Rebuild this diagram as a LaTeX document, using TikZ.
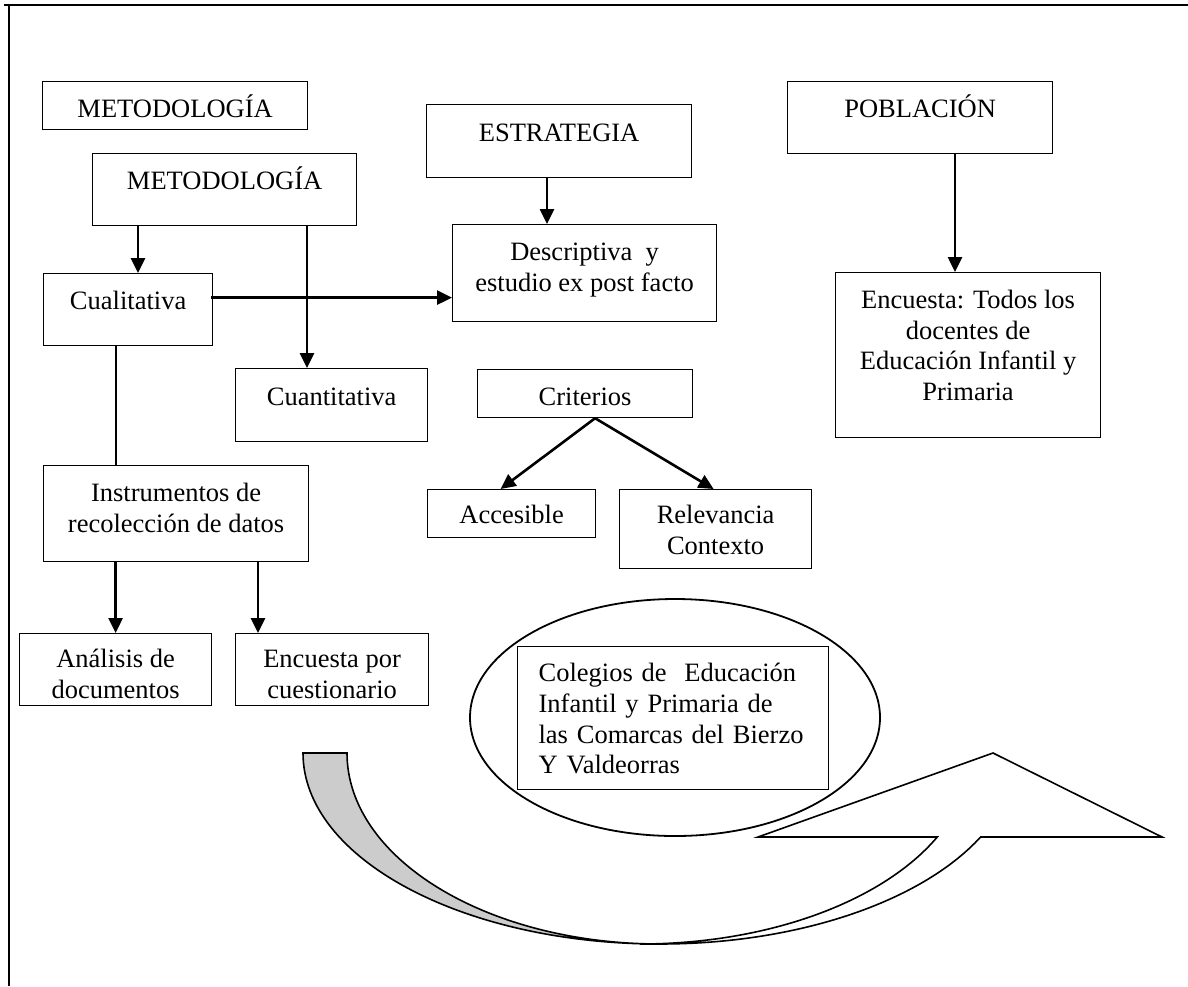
\documentclass[tikz,border=0pt]{standalone}
\usepackage{fontspec}
\setmainfont{Liberation Serif}
\usetikzlibrary{arrows.meta,calc}

\tikzset{
  box/.style={draw, line width=1.2pt, anchor=north west, inner sep=0pt, align=center},
  arr/.style={line width=2.6pt, -{Triangle[length=15pt,width=14pt]}},
}

\begin{document}
\begin{tikzpicture}[x=1pt,y=1pt,font=\fontsize{26.5}{30.7}\selectfont]
\useasboundingbox (0,0) rectangle (1188,-986);
% marco
\draw[line width=2.4pt] (4,-5) -- (1188,-5);
\draw[line width=2.6pt] (9,-4) -- (9,-986);

% flecha curva
\filldraw[fill=white, line width=1.6pt] (640,-944) arc[start angle=270, end angle=333.9, x radius=331pt, y radius=191pt]
  -- (758,-837) -- (993,-753) -- (1162,-837) -- (980.6,-837)
  arc[start angle=333.9, end angle=270, x radius=357pt, y radius=191pt] -- cycle;
\filldraw[fill=black!20, line width=1.6pt] (303,-753) arc[start angle=180, end angle=270, x radius=357pt, y radius=191pt]
  arc[start angle=270, end angle=180, x radius=313pt, y radius=191pt] -- cycle;

% comarcas
\draw[line width=1.8pt] (675,-717.5) ellipse [x radius=205pt, y radius=118.5pt];

\node[box, minimum width=265pt, text height=36pt, text depth=12pt] (meto1) at (42,-81) {METODOLOGÍA};
\node[box, minimum width=264pt, text height=36pt, text depth=36pt] (meto2) at (92,-153) {METODOLOGÍA};
\node[box, minimum width=169pt, text height=36pt, text depth=36pt] (cuali) at (43,-273) {Cualitativa};
\node[box, minimum width=192pt, text height=37pt, text depth=36pt] (cuanti) at (235,-368) {Cuantitativa};
\node[box, minimum width=265pt, text height=37pt, text depth=36pt] (estra) at (426,-104) {ESTRATEGIA};
\node[box, minimum width=264pt, text height=66.7pt, text depth=30.3pt] (descr) at (452,-224) {Descriptiva~ y\\ estudio ex post facto};
\node[box, minimum width=265pt, text height=36pt, text depth=36pt] (pobla) at (787,-81) {POBLACIÓN};
\node[box, minimum width=265pt, text height=128pt, text depth=37pt] (todos) at (835,-272) {Encuesta: Todos los\\ docentes de\\ Educación Infantil y\\ Primaria};
\node[box, minimum width=265pt, text height=66.7pt, text depth=29.3pt] (instr) at (43,-465) {Instrumentos de\\ recolección de datos};
\node[box, minimum width=192pt, text height=65pt, text depth=7pt] (anali) at (19,-633) {Análisis de\\ documentos};
\node[box, minimum width=193pt, text height=65pt, text depth=7pt] (encq) at (235,-633) {Encuesta por\\ cuestionario};
\node[box, minimum width=215pt, text height=36pt, text depth=12pt] (crit) at (477,-369) {Criterios};
\node[box, minimum width=168pt, text height=34pt, text depth=14pt] (acces) at (427,-489) {Accesible};
\node[box, minimum width=192pt, text height=65pt, text depth=14pt] (relev) at (619,-489) {Relevancia\\ Contexto};
\node[box, minimum width=311pt, text width=269pt, align=left, text height=35pt, text depth=108pt] (coleg) at (517,-646)
  {Colegios de~ Educación\\ Infantil y Primaria de\\ las Comarcas del Bierzo\\ Y Valdeorras};

% conexiones
\coordinate (m2a) at ($(meto2.south west)+(46,0)$);
\coordinate (m2b) at ($(meto2.south west)+(215,0)$);
\coordinate (cu) at ($(cuali.east)+(-2,12)$);
\coordinate (cd) at ($(cuali.south west)+(73,0)$);
\coordinate (es) at ($(estra.south west)+(121,0)$);
\coordinate (po) at ($(pobla.south west)+(168,0)$);
\coordinate (ie) at ($(instr.south west)+(215,0)$);
\coordinate (fork) at ($(crit.south)+(10,0)$);
\draw[arr] (m2a) -- (m2a |- cuali.north);
\draw[arr] (m2b) -- (m2b |- cuanti.north);
\draw[arr] (cu) -- (cu -| descr.west);
\draw[line width=1.8pt] (cd) -- (cd |- instr.north);
\draw[arr] (es) -- (es |- descr.north);
\draw[arr] (po) -- (po |- todos.north);
\draw[arr] (anali.north |- instr.south) -- (anali.north);
\draw[arr] (ie) -- (ie |- encq.north);
\draw[arr] (fork) -- ([xshift=-11pt]acces.north);
\draw[arr] (fork) -- ([xshift=-2pt]relev.north);
\end{tikzpicture}
\end{document}
